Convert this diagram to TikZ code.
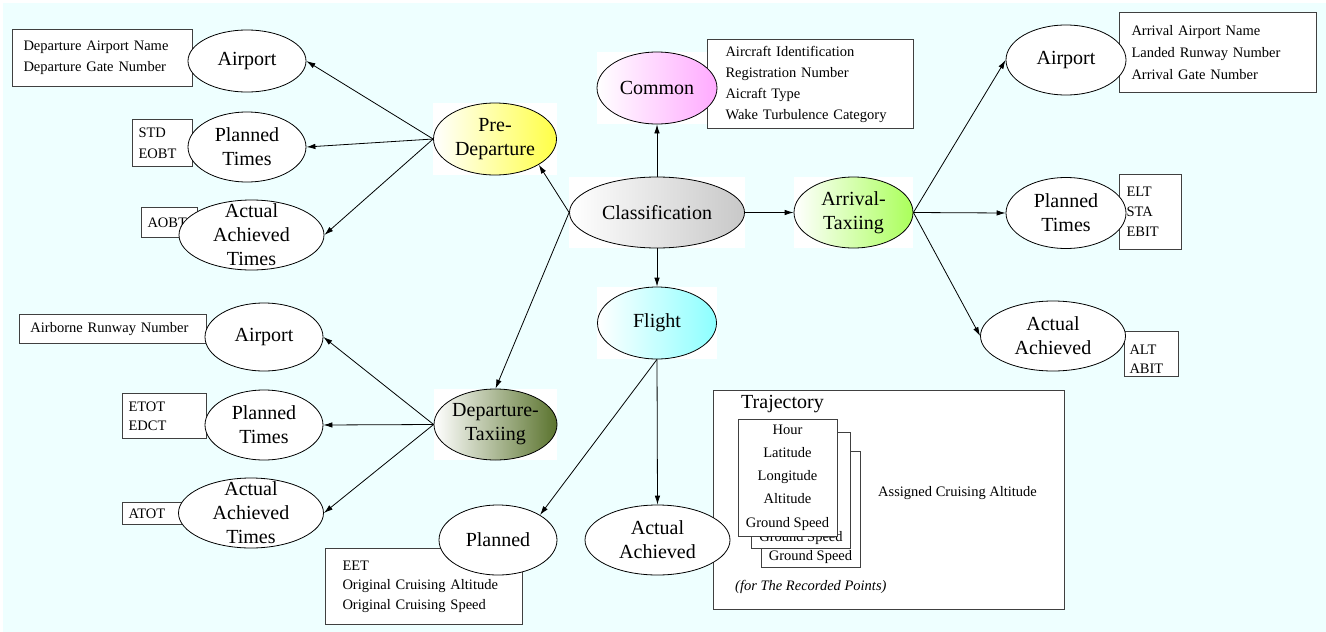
\documentclass[tikz,border=0pt]{standalone}
\usepackage{fontspec}
\setmainfont{Liberation Serif}
\usetikzlibrary{shapes.geometric,arrows.meta,backgrounds}
\definecolor{sky}{RGB}{238,255,255}
\definecolor{clsgray}{RGB}{200,200,200}
\definecolor{cmnpink}{RGB}{255,170,255}
\definecolor{pdyellow}{RGB}{255,255,70}
\definecolor{atgreen}{RGB}{170,255,90}
\definecolor{flcyan}{RGB}{140,255,255}
\definecolor{dtolive}{RGB}{90,115,45}
\begin{document}
\begin{tikzpicture}[x=1pt,y=-1pt]
    \tikzset{
        oval/.style={draw, ellipse, inner sep=0pt, fill=white, line width=0.8pt},
        lbl/.style={font=\fontsize{20}{24}\selectfont, align=center},
        info/.style={draw=black!75, fill=white, line width=1pt, anchor=north west, inner ysep=0pt, align=left, font=\fontsize{14.5}{21}\selectfont},
        card/.style={draw=black!75, fill=white, line width=1pt, inner sep=0pt, minimum width=99pt, minimum height=116pt, align=center, font=\fontsize{14.5}{23.2}\selectfont},
        note/.style={inner sep=0pt, anchor=west, font=\fontsize{14.5}{21}\selectfont},
        arc/.style={-{Latex[length=9pt,width=5.5pt]}, line width=0.8pt}
    }
    \useasboundingbox (0,0) rectangle (1326,632);

    % boxes of fields
    \node[info, text width=158pt, inner xsep=11pt, minimum height=57pt] (pdApBox) at (12,29) {Departure Airport Name\\Departure Gate Number};
    \node[info, text width=48pt, inner xsep=6pt, minimum height=47pt] (pdPtBox) at (132,119) {STD\\EOBT};
    \node[info, text width=44pt, inner xsep=6pt, minimum height=30pt] (pdAaBox) at (141,207) {AOBT};
    \node[info, text width=170pt, inner xsep=18pt, minimum height=89pt] (cmnBox) at (707,39) {Aircraft Identification\\Registration Number\\Aicraft Type\\Wake Turbulence Category};
    \node[info, text width=165pt, inner xsep=11pt, minimum height=29pt] (dtApBox) at (19,314) {Airborne Runway Number};
    \node[info, text width=72pt, inner xsep=6pt, minimum height=45pt, font=\fontsize{14.5}{19}\selectfont] (dtPtBox) at (122,393) {ETOT\\EDCT};
    \node[info, text width=54pt, inner xsep=6pt, minimum height=22pt] (dtAaBox) at (122,502) {ATOT};
    \node[info, text width=163pt, inner xsep=17pt, minimum height=76pt, font=\fontsize{14.5}{19.5}\selectfont] (flPlBox) at (325,548) {EET\\Original Cruising Altitude\\Original Cruising Speed};
    \node[info, text width=173pt, inner xsep=12pt, minimum height=80pt, font=\fontsize{14.5}{22}\selectfont] (atApBox) at (1119,12) {Arrival Airport Name\\Landed Runway Number\\Arrival Gate Number};
    \node[info, text width=48pt, inner xsep=7pt, minimum height=75pt, font=\fontsize{14.5}{20}\selectfont] (atPtBox) at (1119,174) {ELT\\STA\\EBIT};
    \node[info, text width=44pt, inner xsep=5pt, minimum height=45pt, text height=20pt, font=\fontsize{14.5}{19}\selectfont] (atAaBox) at (1124,331) {ALT\\ABIT};

    % trajectory
    \node[draw=black!75, fill=white, line width=1pt, anchor=north west, inner sep=0pt, minimum width=351pt, minimum height=219pt] (traj) at (713,390) {};
    \node[lbl, inner sep=0pt, anchor=west] (trajT) at (741,404) {Trajectory};
    \node[card] (card3) at (810.5,509) {};
    \node[note, anchor=center] (gs3) at (810.5,557) {Ground Speed};
    \node[card] (card2) at (801,490) {};
    \node[note, anchor=center] (gs2) at (801,538) {Ground Speed};
    \node[card, minimum height=117pt] (card1) at (787.5,477.5) {Hour\\Latitude\\Longitude\\Altitude\\Ground Speed};
    \node[note] (acAlt) at (878,493) {Assigned Cruising Altitude};
    \node[note, font=\fontsize{14.5}{21}\selectfont\itshape] (recPts) at (735,587) {(for The Recorded Points)};

    % classes
    \node[oval, minimum width=175pt, minimum height=71pt, left color=white, right color=clsgray, label={[lbl]center:Classification}] (cls) at (657,212.5) {};
    \node[oval, minimum width=120pt, minimum height=72pt, left color=white, right color=cmnpink, label={[lbl]center:Common}] (cmn) at (657,88) {};
    \node[oval, minimum width=123pt, minimum height=72pt, left color=white, right color=pdyellow, label={[lbl]center:Pre-\\Departure}] (pd) at (495,139) {};
    \node[oval, minimum width=119pt, minimum height=71pt, left color=white, right color=atgreen, label={[lbl]center:Arrival-\\Taxiing}] (at) at (853.5,212.5) {};
    \node[oval, minimum width=119pt, minimum height=72pt, left color=white, right color=flcyan, label={[lbl]center:Flight}] (fl) at (657,323) {};
    \node[oval, minimum width=123pt, minimum height=71pt, left color=white, right color=dtolive, label={[lbl]center:Departure-\\Taxiing}] (dt) at (495.5,424.5) {};

    \node[oval, minimum width=118pt, minimum height=62pt, label={[lbl]center:Airport}] (pdAp) at (247,61) {};
    \node[oval, minimum width=118pt, minimum height=70pt, label={[lbl]center:Planned\\Times}] (pdPt) at (247,147) {};
    \node[oval, minimum width=145pt, minimum height=70pt, label={[lbl]center:Actual\\Achieved\\Times}] (pdAa) at (251.5,235) {};
    \node[oval, minimum width=118pt, minimum height=68pt, label={[lbl]center:Airport}] (dtAp) at (264,337) {};
    \node[oval, minimum width=118pt, minimum height=70pt, label={[lbl]center:Planned\\Times}] (dtPt) at (264,425) {};
    \node[oval, minimum width=145pt, minimum height=70pt, label={[lbl]center:Actual\\Achieved\\Times}] (dtAa) at (251,513) {};
    \node[oval, minimum width=118pt, minimum height=70pt, label={[lbl]center:Planned}] (flPl) at (498,540) {};
    \node[oval, minimum width=145pt, minimum height=70pt, label={[lbl]center:Actual\\Achieved}] (flAa) at (657.5,540) {};
    \node[oval, minimum width=120pt, minimum height=70pt, label={[lbl]center:Airport}] (atAp) at (1066,60) {};
    \node[oval, minimum width=120pt, minimum height=71pt, label={[lbl]center:Planned\\Times}] (atPt) at (1066,213) {};
    \node[oval, minimum width=145pt, minimum height=70pt, label={[lbl]center:Actual\\Achieved}] (atAa) at (1053,336) {};

    \draw[arc] (cls.north) -- (cmn.south);
    \draw[arc] (cls.west) -- (pd.south east);
    \draw[arc] (cls.west) -- (dt.north);
    \draw[arc] (cls.east) -- (at.west);
    \draw[arc] (cls.south) -- (fl.north);
    \foreach \c in {pdAp,pdPt,pdAa} \draw[arc] (pd.west) -- (\c.east);
    \foreach \c in {dtAp,dtPt,dtAa} \draw[arc] (dt.west) -- (\c.east);
    \foreach \c in {atAp,atPt,atAa} \draw[arc] (at.east) -- (\c.west);
    \draw[arc] (fl.south) -- (flPl.north east);
    \draw[arc] (fl.south) -- (flAa.north);

    \begin{scope}[on background layer]
        \fill[sky] (3,3) rectangle (1326,632);
        \foreach \n in {cls,cmn,pd,at,fl,dt}
            \fill[white] (\n.west |- \n.north) rectangle (\n.east |- \n.south);
    \end{scope}
\end{tikzpicture}
\end{document}
